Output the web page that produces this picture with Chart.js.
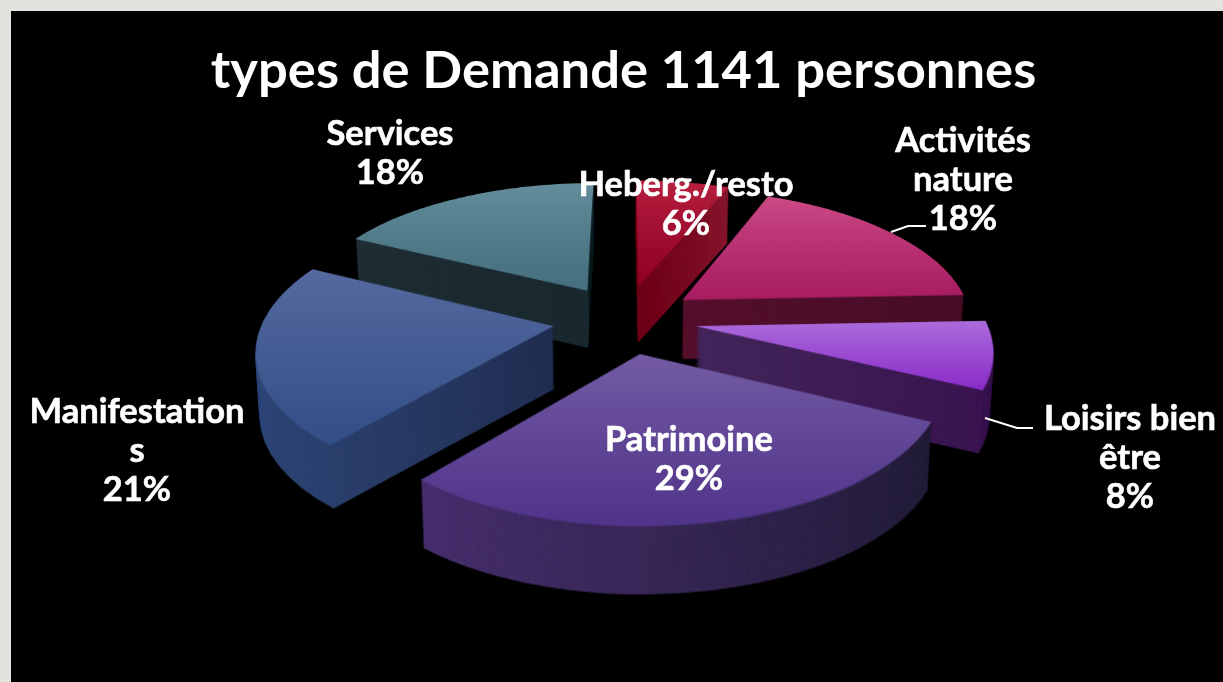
<!DOCTYPE html>
<html>
<head>
<meta charset="utf-8">
<style>
  html, body { margin: 0; height: 100%; background: #e4e2dd; overflow: hidden; }
  #panel { position: absolute; left: 11px; top: 11px; width: 1212px; height: 671px; background: #000; }
  #chart { position: absolute; left: 0; top: 0; }
</style>
<script src="https://cdn.jsdelivr.net/npm/chart.js@4/dist/chart.umd.min.js"></script>
</head>
<body>
<div id="panel"></div>
<canvas id="chart" width="1223" height="682"></canvas>
<script>
const chartTitle = 'types de Demande 1141 personnes';
const categories = [['Heberg./resto'], ['Activités', 'nature'], ['Loisirs bien', 'être'], ['Patrimoine'], ['Manifestation', 's'], ['Services']];
const percents = [6.4, 18, 7.6, 29.4, 20.7, 17.9];

// slice looks: top face gradient (back to front), wall gradient (left to right)
const topShades = [['#b8203f', '#8e0024'], ['#cc4a86', '#a81c62'], ['#ac6cdc', '#8a2cc8'], ['#745ca4', '#50348a'], ['#566aa0', '#334f88'], ['#658e9c', '#456e7e']];
const wallShades = [['#6e0018', '#86182e'], ['#56102c', '#480e28'], ['#44285c', '#3a1450'], ['#48306e', '#241e3a'], ['#324a7c', '#222f52'], ['#202f35', '#1b2a30']];

// label layout: centre x, first line y, and leader lines
const labelX = [686, 963, 1130, 689, 137, 390];
const labelY = [185, 141, 419, 440, 412, 134];
const leaders = [null, [[891, 232], [908, 226], [926, 226]], [[985, 418], [1017, 428], [1033, 428]], null, null, null];

// view of the tilted pie
const view = { cx: 624.5, cy: 319, radius: 290, tilt: 0.48, explode: 72, persp: 0.00115, depth: 62, depthPersp: 6, shrink: 0.012 };

const W = 1223, H = 682;

function layer() {
    const c = document.createElement('canvas');
    c.width = W; c.height = H;
    return c;
}

// flat slice on the tilted plane, drawn by the library's own arc element
function flatSlice(arc, fill) {
    const c = layer(), g = c.getContext('2d');
    const saved = arc.options;
    const mid = (arc.startAngle + arc.endAngle) / 2;
    const s = view.radius / arc.outerRadius;
    g.translate(view.cx + Math.cos(mid) * view.explode, view.cy + Math.sin(mid) * view.explode * view.tilt);
    g.scale(s, s * view.tilt);
    g.translate(-arc.x, -arc.y);
    arc.options = Object.create(saved, { backgroundColor: { value: fill(g) } });
    arc.draw(g);
    arc.options = saved;
    return c;
}

// things nearer the viewer get larger, row by row
function perspective(src) {
    const c = layer(), g = c.getContext('2d');
    const a = view.persp;
    const back = t => (-1 + Math.sqrt(1 + 4 * a * t)) / (2 * a);
    for (let y = 0; y < H; y++) {
        const t0 = y - view.cy, t1 = t0 + 1;
        if (1 + 4 * a * t0 <= 0) continue;
        const f0 = back(t0), f1 = back(t1);
        const s = 1 + a * (f0 + f1) / 2;
        g.drawImage(src, 0, view.cy + f0, W, f1 - f0, view.cx - view.cx * s, y, W * s, 1);
    }
    return c;
}

// extent of one slice in the arc's own coordinates
function sliceBounds(arc) {
    const xs = [arc.x], ys = [arc.y];
    for (let i = 0; i <= 24; i++) {
        const ang = arc.startAngle + (arc.endAngle - arc.startAngle) * i / 24;
        xs.push(arc.x + Math.cos(ang) * arc.outerRadius);
        ys.push(arc.y + Math.sin(ang) * arc.outerRadius);
    }
    return { x0: Math.min(...xs), x1: Math.max(...xs), y0: Math.min(...ys), y1: Math.max(...ys) };
}

function shade(g, stops, x0, y0, x1, y1) {
    const grad = g.createLinearGradient(x0, y0, x1, y1);
    grad.addColorStop(0, stops[0]);
    grad.addColorStop(1, stops[1]);
    return grad;
}

const pie3d = {
    id: 'pie3d',
    beforeDatasetsDraw(chart) {
        const ctx = chart.ctx;
        const arcs = chart.getDatasetMeta(0).data.map((arc, i) => {
            const mid = (arc.startAngle + arc.endAngle) / 2;
            return { arc, i, front: Math.sin(mid) };
        }).sort((p, q) => p.front - q.front);

        arcs.forEach(({ arc, i, front }) => {
            const b = sliceBounds(arc);
            const top = perspective(flatSlice(arc, g => shade(g, topShades[i], 0, b.y0, 0, b.y1)));
            const wall = perspective(flatSlice(arc, g => shade(g, wallShades[i], b.x0, 0, b.x1, 0)));
            const depth = Math.round(view.depth + view.depthPersp * front);
            for (let d = depth; d > 0; d--) {
                const s = 1 - view.shrink * d / depth;
                ctx.save();
                ctx.translate(view.cx, view.cy + d);
                ctx.scale(s, 1);
                ctx.translate(-view.cx, -view.cy);
                ctx.drawImage(wall, 0, 0);
                ctx.restore();
            }
            ctx.drawImage(top, 0, 0);
        });
        return false;
    },
    // the datasets hook above stops the default pass, so text goes here
    afterDraw(chart) {
        const ctx = chart.ctx;
        ctx.save();
        ctx.strokeStyle = '#fff';
        ctx.lineWidth = 2;
        leaders.forEach(pts => {
            if (!pts) return;
            ctx.beginPath();
            pts.forEach((p, k) => k ? ctx.lineTo(p[0], p[1]) : ctx.moveTo(p[0], p[1]));
            ctx.stroke();
        });
        ctx.fillStyle = '#fff';
        ctx.lineWidth = 0.6;
        ctx.font = 'bold 34.5px Lato';
        ctx.textAlign = 'center';
        ctx.textBaseline = 'middle';
        categories.forEach((lines, i) => {
            const rows = lines.concat(Math.round(percents[i]) + '%');
            rows.forEach((row, k) => {
                ctx.fillText(row, labelX[i], labelY[i] + k * 39);
                ctx.strokeText(row, labelX[i], labelY[i] + k * 39);
            });
        });
        ctx.restore();
    }
};

new Chart(document.getElementById('chart'), {
    type: 'pie',
    data: {
        labels: categories,
        datasets: [{ data: percents, borderWidth: 0, backgroundColor: topShades.map(s => s[0]) }]
    },
    options: {
        responsive: false,
        animation: false,
        events: [],
        layout: { padding: { left: 24 } },
        plugins: {
            legend: { display: false },
            tooltip: { enabled: false },
            title: {
                display: true,
                text: chartTitle,
                color: '#fff',
                font: { family: 'Lato', size: 52.5, weight: 'bold' },
                padding: { top: 40, bottom: 10 }
            }
        }
    },
    plugins: [pie3d]
});
</script>
</body>
</html>
